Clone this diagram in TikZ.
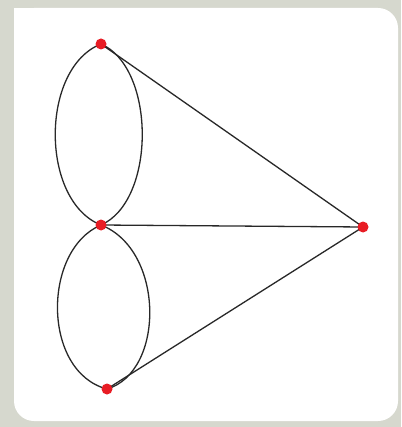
\documentclass[tikz,border=0pt]{standalone}
\definecolor{bggray}{RGB}{214,216,206}
\definecolor{dotred}{RGB}{232,28,36}
\definecolor{edgegray}{RGB}{40,40,40}
\tikzset{
  vtx/.style={circle,fill=dotred,inner sep=0pt,minimum size=11pt},
  edg/.style={draw=edgegray,line width=1.3pt}
}
\begin{document}
\begin{tikzpicture}[x=1pt,y=-1pt]
\fill[bggray] (0,0) rectangle (401,427);
\useasboundingbox (0,0) rectangle (401,427);
\fill[white,rounded corners=20pt] (14,8) rectangle (398,421);
\fill[white] (14,8) rectangle (44,38);
\coordinate (a) at (101,44);
\coordinate (m) at (101,225);
\coordinate (b) at (107,389);
\coordinate (r) at (363,227);
\draw[edg] (a) .. controls (40,68) and (40,201) .. (m);
\draw[edg] (a) .. controls (156,68) and (156,201) .. (m);
\draw[edg] (m) .. controls (42,250) and (42,372) .. (b);
\draw[edg] (m) .. controls (165,250) and (165,372) .. (b);
\draw[edg] (a) -- (r);
\draw[edg] (m) -- (r);
\draw[edg] (b) -- (r);
\node[vtx] (na) at (a) {};
\node[vtx] (nm) at (m) {};
\node[vtx] (nb) at (b) {};
\node[vtx] (nr) at (r) {};
\end{tikzpicture}
\end{document}
